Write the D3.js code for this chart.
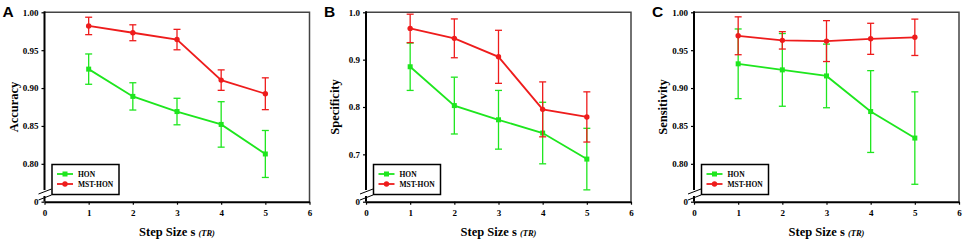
<!DOCTYPE html>
<html>
<head>
<meta charset="utf-8">
<script src="https://cdn.jsdelivr.net/npm/d3@7"></script>
<style>
  body { margin: 0; background: #fff; }
  svg { display: block; font-family: "Liberation Serif", "Times New Roman", serif; font-weight: bold; }
</style>
</head>
<body>
<script>
var width = 965;
var height = 244;

// step sizes (x)
var steps = [1, 2, 3, 4, 5];
var xTicks = [0, 1, 2, 3, 4, 5, 6];

// A - accuracy (mean and half error bar)
var accHon = [0.925, 0.889, 0.869, 0.852, 0.813];
var accHonErr = [0.020, 0.018, 0.0175, 0.030, 0.031];
var accMst = [0.982, 0.973, 0.964, 0.9105, 0.8925];
var accMstErr = [0.0115, 0.0105, 0.0135, 0.0135, 0.021];

// B - specificity
var speHon = [0.885, 0.803, 0.773, 0.745, 0.690];
var speHonErr = [0.050, 0.060, 0.062, 0.065, 0.065];
var speMst = [0.966, 0.945, 0.906, 0.795, 0.779];
var speMstErr = [0.030, 0.041, 0.056, 0.058, 0.053];

// C - sensitivity
var senHon = [0.932, 0.924, 0.916, 0.869, 0.834];
var senHonErr = [0.046, 0.048, 0.042, 0.054, 0.061];
var senMst = [0.969, 0.963, 0.962, 0.965, 0.967];
var senMstErr = [0.025, 0.0115, 0.027, 0.0205, 0.024];

// y ticks; the lowest one sits at the axis break and reads "0"
var yTicksA = [0.75, 0.80, 0.85, 0.90, 0.95, 1.00];
var yLabelsA = ["0", "0.80", "0.85", "0.90", "0.95", "1.00"];
var yTicksB = [0.6, 0.7, 0.8, 0.9, 1.0];
var yLabelsB = ["0", "0.7", "0.8", "0.9", "1.0"];

var seriesNames = ["HON", "MST-HON"];
var green = "#1ee61e";
var red = "#ee1c1c";

var svg = d3.select("body")
    .append("svg")
    .attr("width", width)
    .attr("height", height)

var plotTop = 12.3, plotBottom = 201.7;

function drawPanel(p) {
    var g = svg.append("g")
    var x = d3.scaleLinear().domain([0, 6]).range([p.left, p.left + 265])
    var y = d3.scaleLinear().domain([p.yTicks[0], p.yTicks[p.yTicks.length - 1]]).range([plotBottom, plotTop])
    var right = p.left + 265

    // top and right frame
    g.append("path")
        .attr("d", "M" + p.left + "," + plotTop + "H" + right + "V" + plotBottom)
        .attr("fill", "none")
        .attr("stroke", "#444")
        .attr("stroke-width", 1.5)

    // x axis
    g.append("g")
        .attr("transform", "translate(0," + plotBottom + ")")
        .call(d3.axisBottom(x).tickValues(xTicks).tickFormat(d3.format("d")).tickSize(3).tickSizeOuter(0).tickPadding(5))
        .call(function (a) {
            a.attr("font-family", null)
            a.select(".domain").attr("stroke", "#000").attr("stroke-width", 2)
            a.selectAll(".tick line").attr("stroke", "#000").attr("stroke-width", 1.2)
            a.selectAll("text").attr("font-size", 9).attr("fill", "#000")
        })

    // y axis with break
    g.append("g")
        .attr("transform", "translate(" + p.left + ",0)")
        .call(d3.axisLeft(y).tickValues(p.yTicks).tickFormat(function (d, i) { return p.yLabels[i] }).tickSize(3).tickPadding(3))
        .call(function (a) {
            a.attr("font-family", null)
            a.select(".domain").remove()
            a.selectAll(".tick line").attr("stroke", "#000").attr("stroke-width", 1.2)
            a.selectAll("text").attr("font-size", 9).attr("fill", "#000")
        })
    g.append("line")
        .attr("x1", p.left).attr("x2", p.left)
        .attr("y1", plotTop - 1).attr("y2", 190)
        .attr("stroke", "#000").attr("stroke-width", 2)
    g.append("line")
        .attr("x1", p.left).attr("x2", p.left)
        .attr("y1", 196).attr("y2", plotBottom)
        .attr("stroke", "#000").attr("stroke-width", 2)
    ;[191.5, 197.5].forEach(function (yy) {
        g.append("line")
            .attr("x1", p.left - 6).attr("y1", yy + 2.5)
            .attr("x2", p.left + 7).attr("y2", yy - 2.5)
            .attr("stroke", "#000").attr("stroke-width", 1)
    })

    // titles
    g.append("text")
        .attr("transform", "translate(" + (p.left - 31) + "," + ((plotTop + plotBottom) / 2) + ") rotate(-90)")
        .attr("text-anchor", "middle")
        .attr("dy", "0.35em")
        .attr("font-size", 12.5)
        .text(p.yTitle)
    var xt = g.append("text")
        .attr("x", (p.left + right) / 2)
        .attr("y", 236)
        .attr("text-anchor", "middle")
        .attr("font-size", 12.5)
    xt.append("tspan").text("Step Size s ")
    xt.append("tspan").attr("font-style", "italic").attr("font-size", 8.5).text("(TR)")

    g.append("text")
        .attr("x", p.left - 42)
        .attr("y", 17)
        .attr("font-family", "Liberation Sans, Arial, sans-serif")
        .attr("font-size", 15.5)
        .text(p.letter)

    // series
    var line = d3.line().x(function (d, i) { return x(steps[i]) }).y(function (d) { return y(d) })
    var series = [
        { vals: p.hon, errs: p.honErr, color: green, square: true },
        { vals: p.mst, errs: p.mstErr, color: red, square: false }
    ]
    series.forEach(function (s) {
        var sg = g.append("g")
        s.vals.forEach(function (v, i) {
            var cx = x(steps[i])
            var y0 = y(v - s.errs[i]), y1 = y(v + s.errs[i])
            sg.append("line").attr("x1", cx).attr("x2", cx).attr("y1", y0).attr("y2", y1)
            sg.append("line").attr("x1", cx - 3.5).attr("x2", cx + 3.5).attr("y1", y0).attr("y2", y0)
            sg.append("line").attr("x1", cx - 3.5).attr("x2", cx + 3.5).attr("y1", y1).attr("y2", y1)
        })
        sg.selectAll("line").attr("stroke", s.color).attr("stroke-width", 1.3)
        sg.append("path")
            .attr("d", line(s.vals))
            .attr("fill", "none")
            .attr("stroke", s.color)
            .attr("stroke-width", 1.8)
        s.vals.forEach(function (v, i) {
            if (s.square) {
                sg.append("rect")
                    .attr("x", x(steps[i]) - 2.5).attr("y", y(v) - 2.5)
                    .attr("width", 5).attr("height", 5)
                    .attr("fill", s.color)
            } else {
                sg.append("circle")
                    .attr("cx", x(steps[i])).attr("cy", y(v)).attr("r", 2.7)
                    .attr("fill", s.color)
            }
        })
    })

    // legend
    var lg = g.append("g").attr("transform", "translate(" + (p.left + 7.5) + ",164.5)")
    lg.append("rect")
        .attr("width", 67).attr("height", 30)
        .attr("fill", "#fff").attr("stroke", "#000").attr("stroke-width", 1.5)
    seriesNames.forEach(function (name, i) {
        var ly = 9.5 + i * 10
        var col = i === 0 ? green : red
        lg.append("line").attr("x1", 5).attr("x2", 21).attr("y1", ly).attr("y2", ly)
            .attr("stroke", col).attr("stroke-width", 1.8)
        if (i === 0) {
            lg.append("rect").attr("x", 10.5).attr("y", ly - 2.5).attr("width", 5).attr("height", 5).attr("fill", col)
        } else {
            lg.append("circle").attr("cx", 13).attr("cy", ly).attr("r", 2.7).attr("fill", col)
        }
        lg.append("text").attr("x", 26).attr("y", ly).attr("dy", "0.35em")
            .attr("font-size", 7.5).text(name)
    })
}

drawPanel({ left: 44.5, letter: "A", yTitle: "Accuracy", yTicks: yTicksA, yLabels: yLabelsA,
    hon: accHon, honErr: accHonErr, mst: accMst, mstErr: accMstErr })
drawPanel({ left: 366, letter: "B", yTitle: "Specificity", yTicks: yTicksB, yLabels: yLabelsB,
    hon: speHon, honErr: speHonErr, mst: speMst, mstErr: speMstErr })
drawPanel({ left: 694, letter: "C", yTitle: "Sensitivity", yTicks: yTicksA, yLabels: yLabelsA,
    hon: senHon, honErr: senHonErr, mst: senMst, mstErr: senMstErr })
</script>
</body>
</html>
